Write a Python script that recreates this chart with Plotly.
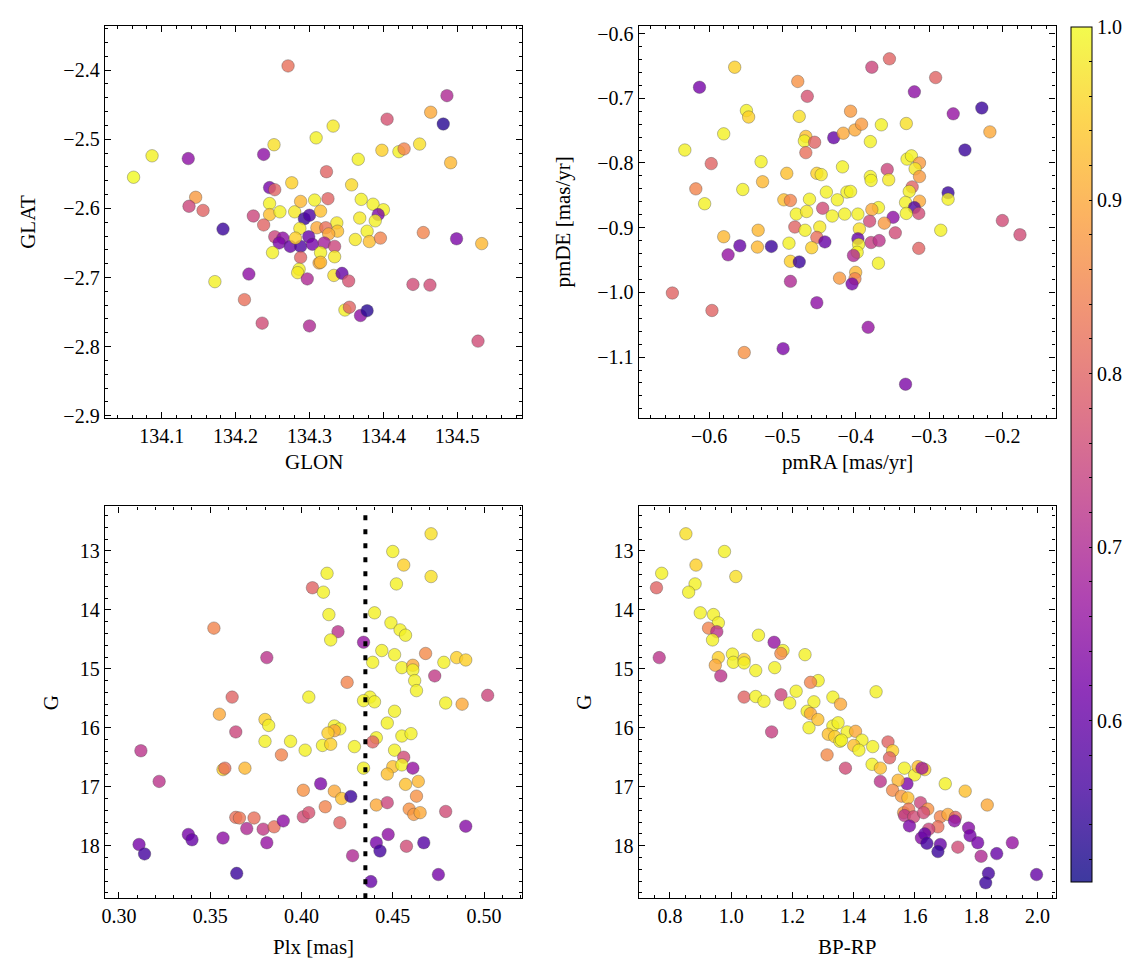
import plotly.graph_objects as go
import plotly.colors as pc

# ---------------- data ----------------
glon = [134.271, 134.062, 134.087, 134.136, 134.238, 134.252, 134.309, 134.146, 134.137, 134.156,
        134.183, 134.276, 134.246, 134.253, 134.246, 134.246, 134.260, 134.224, 134.238, 134.280,
        134.288, 134.307, 134.293, 134.300, 134.287, 134.310, 134.253, 134.264, 134.259, 134.274,
        134.288, 134.299, 134.304, 134.281, 134.250, 134.288, 134.286, 134.284, 134.313, 134.297,
        134.218, 134.172, 134.212, 134.236, 134.300, 134.486, 134.464, 134.481, 134.405, 134.332,
        134.398, 134.421, 134.428, 134.449, 134.491, 134.366, 134.323, 134.357, 134.325, 134.315,
        134.370, 134.386, 134.400, 134.393, 134.389, 134.368, 134.337, 134.322, 134.338, 134.326,
        134.378, 134.362, 134.381, 134.396, 134.454, 134.499, 134.533, 134.320, 134.334, 134.315,
        134.334, 134.315, 134.333, 134.344, 134.353, 134.440, 134.463, 134.348, 134.354, 134.369,
        134.378, 134.528]
glat = [-2.394, -2.555, -2.524, -2.528, -2.522, -2.508, -2.498, -2.584, -2.597, -2.603,
        -2.630, -2.563, -2.570, -2.573, -2.593, -2.609, -2.605, -2.611, -2.624, -2.605,
        -2.590, -2.588, -2.615, -2.610, -2.629, -2.628, -2.641, -2.643, -2.650, -2.655,
        -2.655, -2.641, -2.652, -2.643, -2.664, -2.671, -2.688, -2.693, -2.679, -2.702,
        -2.695, -2.706, -2.732, -2.766, -2.770, -2.437, -2.461, -2.478, -2.471, -2.481,
        -2.516, -2.518, -2.514, -2.507, -2.534, -2.529, -2.547, -2.566, -2.586, -2.604,
        -2.587, -2.594, -2.602, -2.609, -2.618, -2.614, -2.621, -2.628, -2.633, -2.637,
        -2.633, -2.645, -2.648, -2.643, -2.635, -2.644, -2.651, -2.650, -2.655, -2.664,
        -2.670, -2.678, -2.697, -2.694, -2.705, -2.710, -2.711, -2.747, -2.743, -2.755,
        -2.748, -2.792]
prob_pos = [0.82, 1.00, 0.99, 0.65, 0.65, 0.97, 0.99, 0.88, 0.75, 0.80,
            0.55, 0.95, 0.62, 0.80, 0.99, 0.93, 0.99, 0.75, 0.80, 0.98,
            0.92, 0.99, 0.55, 0.57, 0.98, 0.90, 0.75, 0.65, 0.63, 0.60,
            0.57, 0.60, 0.62, 0.95, 0.99, 0.80, 0.99, 0.98, 0.90, 0.70,
            0.65, 0.99, 0.82, 0.76, 0.70, 0.70, 0.90, 0.53, 0.77, 0.98,
            0.95, 0.99, 0.85, 0.97, 0.92, 0.99, 0.80, 0.96, 0.80, 0.93,
            0.99, 0.99, 0.99, 0.63, 0.99, 0.98, 0.98, 0.82, 0.93, 0.90,
            0.99, 0.98, 0.93, 0.85, 0.85, 0.63, 0.92, 0.68, 0.75, 0.99,
            0.98, 0.92, 0.97, 0.60, 0.77, 0.76, 0.76, 0.99, 0.80, 0.65,
            0.53, 0.76]

pmra = [-0.565, -0.613, -0.479, -0.466, -0.549, -0.546, -0.477, -0.407, -0.580, -0.633,
        -0.597, -0.468, -0.470, -0.456, -0.468, -0.430, -0.417, -0.529, -0.494, -0.527,
        -0.618, -0.554, -0.606, -0.453, -0.447, -0.418, -0.498, -0.489, -0.463, -0.440,
        -0.425, -0.412, -0.481, -0.467, -0.445, -0.432, -0.415, -0.483, -0.469, -0.449,
        -0.533, -0.580, -0.558, -0.574, -0.534, -0.515, -0.491, -0.453, -0.442, -0.460,
        -0.489, -0.477, -0.489, -0.422, -0.453, -0.650, -0.596, -0.552, -0.499, -0.354,
        -0.378, -0.291, -0.320, -0.228, -0.267, -0.217, -0.251, -0.401, -0.392, -0.365,
        -0.331, -0.380, -0.330, -0.324, -0.313, -0.319, -0.357, -0.313, -0.380, -0.379,
        -0.355, -0.407, -0.323, -0.327, -0.274, -0.274, -0.313, -0.332, -0.369, -0.378,
        -0.397, -0.320, -0.314, -0.331, -0.349, -0.381, -0.361, -0.395, -0.346, -0.284,
        -0.200, -0.176, -0.397, -0.396, -0.379, -0.368, -0.314, -0.398, -0.403, -0.369,
        -0.400, -0.401, -0.405, -0.383, -0.332]
pmde = [-0.652, -0.683, -0.674, -0.697, -0.719, -0.729, -0.728, -0.720, -0.755, -0.780,
        -0.801, -0.759, -0.766, -0.768, -0.784, -0.761, -0.754, -0.798, -0.816, -0.829,
        -0.840, -0.841, -0.863, -0.816, -0.818, -0.806, -0.857, -0.858, -0.856, -0.845,
        -0.857, -0.845, -0.879, -0.875, -0.870, -0.882, -0.879, -0.899, -0.904, -0.899,
        -0.904, -0.914, -0.928, -0.942, -0.930, -0.929, -0.924, -0.915, -0.922, -0.931,
        -0.952, -0.953, -0.983, -0.978, -1.016, -1.001, -1.028, -1.093, -1.087, -0.639,
        -0.652, -0.668, -0.690, -0.715, -0.724, -0.752, -0.780, -0.749, -0.740, -0.741,
        -0.739, -0.767, -0.794, -0.789, -0.800, -0.809, -0.810, -0.821, -0.821, -0.827,
        -0.826, -0.844, -0.837, -0.844, -0.846, -0.856, -0.859, -0.861, -0.869, -0.872,
        -0.879, -0.869, -0.878, -0.878, -0.884, -0.890, -0.893, -0.902, -0.908, -0.904,
        -0.889, -0.911, -0.917, -0.926, -0.923, -0.920, -0.932, -0.938, -0.943, -0.955,
        -0.969, -0.979, -0.987, -1.054, -1.142]
prob_pm = [0.95, 0.62, 0.87, 0.77, 0.99, 0.95, 0.97, 0.88, 0.99, 0.99,
           0.80, 0.93, 0.99, 0.80, 0.82, 0.60, 0.90, 0.99, 0.93, 0.92,
           0.85, 0.99, 0.99, 0.95, 0.98, 0.99, 0.93, 0.85, 0.99, 0.99,
           0.99, 0.99, 0.99, 0.98, 0.76, 0.99, 0.99, 0.80, 0.99, 0.98,
           0.92, 0.92, 0.60, 0.66, 0.92, 0.55, 0.99, 0.82, 0.60, 0.95,
           0.95, 0.55, 0.70, 0.88, 0.65, 0.80, 0.80, 0.87, 0.63, 0.80,
           0.75, 0.80, 0.65, 0.55, 0.66, 0.90, 0.55, 0.90, 0.88, 0.99,
           0.97, 0.99, 0.99, 0.99, 0.88, 0.98, 0.75, 0.88, 0.99, 0.99,
           0.98, 0.99, 0.80, 0.99, 0.55, 0.99, 0.90, 0.99, 0.99, 0.90,
           0.99, 0.57, 0.76, 0.99, 0.65, 0.76, 0.88, 0.97, 0.76, 0.99,
           0.76, 0.76, 0.60, 0.99, 0.74, 0.72, 0.80, 0.99, 0.70, 0.99,
           0.92, 0.85, 0.62, 0.66, 0.63]

plx = [0.406, 0.352, 0.381, 0.362, 0.404, 0.355, 0.364, 0.380, 0.382, 0.380,
       0.394, 0.402, 0.389, 0.312, 0.322, 0.357, 0.358, 0.369, 0.401, 0.4105,
       0.364, 0.366, 0.374, 0.370, 0.379, 0.385, 0.390, 0.401, 0.404, 0.338,
       0.340, 0.357, 0.381, 0.311, 0.314, 0.3645, 0.471, 0.450, 0.456, 0.471,
       0.452, 0.414, 0.412, 0.415, 0.440, 0.420, 0.416, 0.434, 0.449, 0.454,
       0.457, 0.444, 0.451, 0.439, 0.468, 0.478, 0.485, 0.490, 0.455, 0.461,
       0.461, 0.473, 0.462, 0.463, 0.502, 0.425, 0.4375, 0.434, 0.440, 0.479,
       0.488, 0.451, 0.447, 0.418, 0.421, 0.418, 0.4145, 0.4115, 0.416, 0.429,
       0.441, 0.439, 0.455, 0.460, 0.451, 0.456, 0.434, 0.450, 0.447, 0.455,
       0.461, 0.457, 0.464, 0.418, 0.422, 0.427, 0.463, 0.441, 0.447, 0.459,
       0.4615, 0.465, 0.479, 0.413, 0.421, 0.490, 0.4475, 0.441, 0.443, 0.4575,
       0.467, 0.428, 0.475, 0.438]
g_plx = [13.625, 14.31, 14.81, 15.48, 15.48, 15.77, 16.07, 15.86, 15.96, 16.23,
         16.23, 16.38, 16.46, 16.39, 16.91, 16.71, 16.685, 16.685, 17.06, 16.95,
         17.52, 17.53, 17.53, 17.71, 17.72, 17.68, 17.58, 17.51, 17.44, 17.81,
         17.90, 17.87, 17.95, 17.98, 18.14, 18.47, 12.71, 13.01, 13.24, 13.435,
         13.56, 13.38, 13.70, 14.08, 14.05, 14.37, 14.51, 14.55, 14.22, 14.34,
         14.43, 14.69, 14.76, 14.89, 14.74, 14.89, 14.81, 14.85, 14.98, 14.94,
         15.02, 15.12, 15.20, 15.37, 15.45, 15.23, 15.48, 15.54, 15.56, 15.58,
         15.60, 15.72, 15.92, 15.97, 16.02, 16.05, 16.09, 16.30, 16.28, 16.32,
         16.17, 16.24, 16.14, 16.10, 16.38, 16.50, 16.685, 16.66, 16.785, 16.63,
         16.685, 16.96, 16.91, 17.075, 17.20, 17.165, 17.16, 17.31, 17.27, 17.38,
         17.47, 17.44, 17.42, 17.34, 17.61, 17.67, 17.81, 17.95, 18.09, 18.01,
         17.95, 18.17, 18.49, 18.61]
prob_plx = [0.80, 0.85, 0.72, 0.80, 0.99, 0.90, 0.75, 0.95, 0.99, 0.99,
            0.99, 0.99, 0.85, 0.72, 0.72, 0.95, 0.82, 0.92, 0.87, 0.63,
            0.82, 0.83, 0.82, 0.70, 0.73, 0.82, 0.65, 0.76, 0.77, 0.62,
            0.60, 0.65, 0.66, 0.62, 0.56, 0.55, 0.97, 0.99, 0.95, 0.97,
            0.99, 0.99, 0.99, 0.99, 0.99, 0.72, 0.99, 0.66, 0.99, 0.99,
            0.99, 0.99, 0.99, 0.99, 0.86, 0.99, 0.95, 0.95, 0.99, 0.90,
            0.99, 0.73, 0.99, 0.99, 0.75, 0.85, 0.99, 0.99, 0.99, 0.99,
            0.90, 0.99, 0.99, 0.99, 0.99, 0.90, 0.95, 0.99, 0.95, 0.99,
            0.99, 0.80, 0.99, 0.99, 0.99, 0.76, 0.99, 0.93, 0.93, 0.99,
            0.66, 0.93, 0.92, 0.90, 0.93, 0.55, 0.87, 0.90, 0.75, 0.87,
            0.88, 0.90, 0.76, 0.85, 0.80, 0.64, 0.65, 0.62, 0.56, 0.76,
            0.58, 0.70, 0.62, 0.60]
plx_cut = 0.435

bprp = [0.852, 0.773, 0.756, 0.978, 0.885, 1.015, 0.882, 0.861, 0.899, 0.942,
        0.958, 0.926, 0.953, 0.939, 1.140, 1.089, 1.169, 1.162, 1.241, 0.765,
        0.958, 0.948, 1.004, 1.007, 1.042, 1.042, 1.080, 1.142, 0.966, 1.284,
        1.259, 1.042, 1.080, 1.107, 1.1625, 1.212, 1.191, 1.270, 1.332, 1.357,
        1.248, 1.259, 1.283, 1.254, 1.132, 1.332, 1.349, 1.317, 1.338, 1.355,
        1.313, 1.373, 1.3785, 1.473, 1.406, 1.427, 1.400, 1.417, 1.462, 1.360,
        1.512, 1.527, 1.517, 1.460, 1.487, 1.487, 1.5655, 1.599, 1.610, 1.632,
        1.623, 1.574, 1.545, 1.527, 1.556, 1.577, 1.699, 1.764, 1.836, 1.618,
        1.642, 1.563, 1.5795, 1.566, 1.596, 1.628, 1.582, 1.683, 1.7075, 1.732,
        1.675, 1.645, 1.729, 1.775, 1.780, 1.805, 1.621, 1.632, 1.639, 1.683,
        1.675, 1.740, 1.816, 1.867, 1.918, 1.840, 1.831, 1.997]
g_cmd = [12.71, 13.38, 13.625, 13.01, 13.24, 13.435, 13.56, 13.70, 14.05, 14.08,
         14.22, 14.31, 14.37, 14.51, 14.55, 14.43, 14.69, 14.74, 14.76, 14.81,
         14.81, 14.94, 14.75, 14.89, 14.84, 14.90, 15.03, 14.98, 15.12, 15.20,
         15.23, 15.48, 15.47, 15.55, 15.44, 15.38, 15.58, 15.56, 15.48, 15.60,
         15.72, 15.76, 15.86, 16.00, 16.07, 15.97, 15.915, 16.11, 16.15, 16.23,
         16.46, 16.685, 16.07, 15.39, 16.06, 16.21, 16.30, 16.38, 16.32, 16.21,
         16.24, 16.39, 16.51, 16.62, 16.685, 16.91, 16.685, 16.80, 16.66, 16.71,
         16.685, 16.95, 16.89, 17.06, 17.16, 17.19, 16.95, 17.075, 17.31, 17.27,
         17.38, 17.44, 17.38, 17.49, 17.51, 17.44, 17.665, 17.51, 17.47, 17.52,
         17.68, 17.72, 17.58, 17.70, 17.83, 17.95, 17.87, 17.80, 17.96, 17.98,
         18.10, 18.025, 18.18, 18.135, 17.95, 18.47, 18.63, 18.49]
prob_cmd = [0.97, 0.99, 0.80, 0.99, 0.95, 0.97, 0.99, 0.99, 0.99, 0.99,
            0.99, 0.85, 0.72, 0.99, 0.66, 0.99, 0.99, 0.86, 0.99, 0.72,
            0.95, 0.90, 0.99, 0.99, 0.95, 0.99, 0.99, 0.99, 0.72, 0.99,
            0.85, 0.80, 0.99, 0.99, 0.75, 0.99, 0.99, 0.99, 0.99, 0.90,
            0.99, 0.90, 0.93, 0.99, 0.74, 0.99, 0.99, 0.93, 0.95, 0.99,
            0.86, 0.76, 0.99, 0.99, 0.90, 0.99, 0.93, 0.99, 0.99, 0.99,
            0.80, 0.95, 0.80, 0.99, 0.93, 0.72, 0.99, 0.99, 0.93, 0.95,
            0.68, 0.63, 0.92, 0.86, 0.88, 0.93, 0.99, 0.93, 0.90, 0.75,
            0.87, 0.88, 0.83, 0.72, 0.76, 0.76, 0.63, 0.85, 0.90, 0.80,
            0.82, 0.75, 0.65, 0.64, 0.62, 0.62, 0.64, 0.60, 0.56, 0.60,
            0.55, 0.76, 0.70, 0.60, 0.66, 0.56, 0.55, 0.60]

cbar_ticks = [0.6, 0.7, 0.8, 0.9, 1.0]
prob_min, prob_max = 0.507, 1.0

# ---------------- styling ----------------
W, H = 1133, 965
FONT = "Liberation Serif, DejaVu Serif, serif"
TICKSIZE = 20
TITLESIZE = 21

def rgba(hexc, a=0.8):
    r, g, b = pc.hex_to_rgb(hexc)
    return f"rgba({r},{g},{b},{a})"

plasma = pc.sequential.Plasma
n = len(plasma)
cscale = [[i / (n - 1), rgba(c)] for i, c in enumerate(plasma)]

def px_x(p):
    return p / W

def px_y(p):
    return 1 - p / H

# panel pixel boxes (left, right, top, bottom)
boxes = {
    1: (94, 512.7, 15, 412),
    2: (629.3, 1047.3, 15, 412),
    3: (94, 512.7, 501.7, 898.3),
    4: (629.3, 1047.3, 501.7, 898.3),
}

fig = go.Figure()

panels = [
    (glon, glat, prob_pos),
    (pmra, pmde, prob_pm),
    (plx, g_plx, prob_plx),
    (bprp, g_cmd, prob_cmd),
]

minor_vals = [round(0.52 + 0.02 * i, 2) for i in range(25)]
cb_tickvals = sorted(set(minor_vals) | set(cbar_ticks))
cb_ticktext = [("%.1f" % v) if any(abs(v - t) < 1e-9 for t in cbar_ticks) else "" for v in cb_tickvals]

for i, (xs, ys, cs) in enumerate(panels, start=1):
    suffix = "" if i == 1 else str(i)
    fig.add_trace(go.Scatter(
        x=xs, y=ys, mode="markers",
        xaxis="x" + suffix, yaxis="y" + suffix,
        marker=dict(
            size=12.5, color=cs, colorscale=cscale, cmin=prob_min, cmax=prob_max,
            line=dict(color="rgba(70,70,70,0.6)", width=0.6),
            showscale=(i == 1),
            colorbar=dict(
                x=px_x(1063), xanchor="left", y=px_y(16), yanchor="top",
                len=(882 - 16) / H, lenmode="fraction", thickness=21,
                outlinecolor="black", outlinewidth=1,
                ticks="inside", ticklen=3, tickcolor="black",
                tickmode="array", tickvals=cb_tickvals, ticktext=cb_ticktext,
                tickfont=dict(family=FONT, size=TICKSIZE, color="black"),
                xpad=0, ypad=0,
            ),
        ),
        showlegend=False, hoverinfo="skip",
    ))

axis_common = dict(
    showline=True, linecolor="black", linewidth=1.2, mirror="allticks",
    ticks="inside", ticklen=6, tickwidth=1, tickcolor="black",
    showgrid=False, zeroline=False,
    tickfont=dict(family=FONT, size=TICKSIZE, color="black"),
)

def xax(i, rng, dtick, minor_dtick, fmt, tick0):
    l, r, t, b = boxes[i]
    d = dict(axis_common)
    d.update(domain=[px_x(l), px_x(r)], range=rng, dtick=dtick, tick0=tick0,
             tickformat=fmt, anchor="y" + ("" if i == 1 else str(i)),
             minor=dict(ticks="inside", ticklen=3, tickcolor="black", dtick=minor_dtick, tick0=tick0, showgrid=False))
    return d

def yax(i, rng, dtick, minor_dtick, fmt, tick0):
    l, r, t, b = boxes[i]
    d = dict(axis_common)
    d.update(domain=[px_y(b), px_y(t)], range=rng, dtick=dtick, tick0=tick0,
             tickformat=fmt, anchor="x" + ("" if i == 1 else str(i)),
             minor=dict(ticks="inside", ticklen=3, tickcolor="black", dtick=minor_dtick, tick0=tick0, showgrid=False))
    return d

layout = dict(
    width=W, height=H,
    margin=dict(l=0, r=0, t=0, b=0),
    paper_bgcolor="white", plot_bgcolor="white",
    font=dict(family=FONT, size=TICKSIZE, color="black"),
    xaxis=xax(1, [134.023, 134.588], 0.1, 0.02, ".1f", 134.0),
    yaxis=yax(1, [-2.903, -2.336], 0.1, 0.02, ".1f", -3.0),
    xaxis2=xax(2, [-0.696, -0.1275], 0.1, 0.02, ".1f", -1.0),
    yaxis2=yax(2, [-1.194, -0.588], 0.1, 0.02, ".1f", -1.2),
    xaxis3=xax(3, [0.2922, 0.521], 0.05, 0.01, ".2f", 0.3),
    yaxis3=yax(3, [18.89, 12.246], 1, 0.2, "d", 12),
    xaxis4=xax(4, [0.6977, 2.059], 0.2, 0.05, ".1f", 0.6),
    yaxis4=yax(4, [18.89, 12.246], 1, 0.2, "d", 12),
)
fig.update_layout(**layout)

# vertical dotted parallax cut
fig.add_shape(type="line", xref="x3", yref="y3 domain", x0=plx_cut, x1=plx_cut, y0=0, y1=1,
              line=dict(color="black", width=4, dash="5px,9px"))

# axis titles as annotations
titles = [
    ("GLON", (94 + 512.7) / 2, 457, 0),
    ("pmRA [mas/yr]", (629.3 + 1047.3) / 2, 457, 0),
    ("Plx [mas]", (94 + 512.7) / 2, 948, 0),
    ("BP-RP", (629.3 + 1047.3) / 2, 948, 0),
    ("GLAT", 17, (15 + 412) / 2, -90),
    ("pmDE [mas/yr]", 553, (15 + 412) / 2, -90),
    ("G", 40, (501.7 + 898.3) / 2, -90),
    ("G", 575, (501.7 + 898.3) / 2, -90),
]
for txt, xp, yp, ang in titles:
    fig.add_annotation(text=txt, x=px_x(xp), y=px_y(yp), xref="paper", yref="paper",
                       showarrow=False, textangle=ang, xanchor="center", yanchor="middle",
                       font=dict(family=FONT, size=TITLESIZE, color="black"))

fig.write_html("out.html")
